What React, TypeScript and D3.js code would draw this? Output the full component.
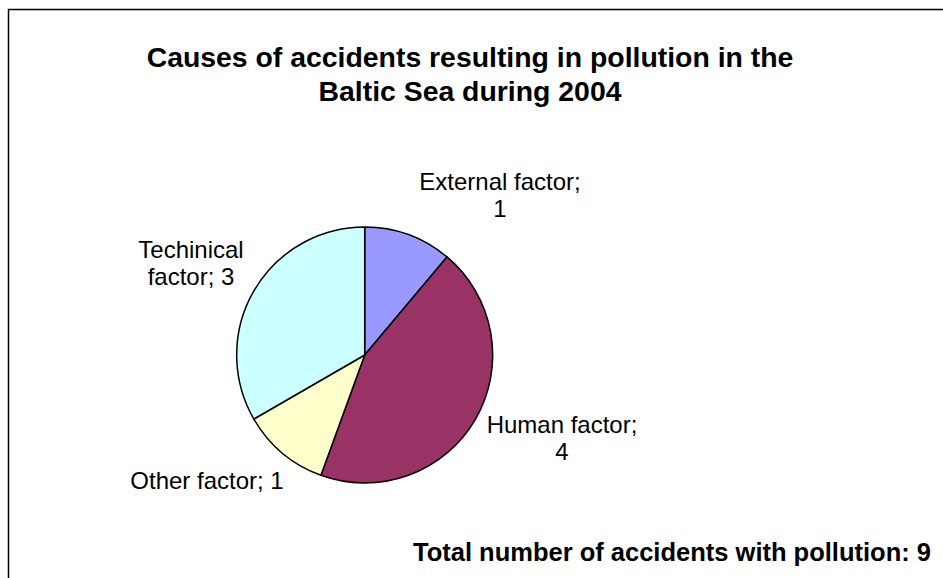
import React from "react";
import * as d3 from "d3";

const categories = ["External factor", "Human factor", "Other factor", "Techinical factor"];
const values = [1, 4, 1, 3];
const colors = ["#9999FF", "#993366", "#FFFFCC", "#CCFFFF"];
const titleLines = ["Causes of accidents resulting in pollution in the", "Baltic Sea during 2004"];
const totalLabel = "Total number of accidents with pollution: ";

// label lines per slice, with anchor positions
const labelLayout = [
  { lines: (c: string, v: number) => [c + ";", String(v)], x: 500, y: 190 },
  { lines: (c: string, v: number) => [c + ";", String(v)], x: 562, y: 433 },
  { lines: (c: string, v: number) => [c + "; " + v], x: 207, y: 489 },
  { lines: (c: string, v: number) => ["Techinical", "factor; " + v], x: 191, y: 258 },
];

export default function App() {
  const W = 943;
  const H = 578;
  const cx = 364.7;
  const cy = 355;
  const r = 128;
  const total = d3.sum(values);

  const pie = d3.pie<number>().sort(null).value((d) => d).startAngle(0).endAngle(2 * Math.PI);
  const arcs = pie(values);
  const arcGen = d3.arc<d3.PieArcDatum<number>>().innerRadius(0).outerRadius(r);

  const font = "'Liberation Sans', Arial, sans-serif";

  return (
    <svg
      width={W}
      height={H}
      style={{ position: "absolute", left: 0, top: 0, background: "#fff" }}
      fontFamily={font}
    >
      <rect x={8.5} y={9.5} width={1000} height={1000} fill="#fff" stroke="#000" strokeWidth={1.5} />
      {titleLines.map((t, i) => (
        <text key={i} x={470} y={67 + i * 34} textAnchor="middle" fontSize={28.4} fontWeight="bold" fill="#000">
          {t}
        </text>
      ))}
      <g transform={`translate(${cx},${cy})`}>
        {arcs.map((a, i) => (
          <path key={i} d={arcGen(a) || ""} fill={colors[i]} stroke="#000" strokeWidth={1.5} strokeLinejoin="round" />
        ))}
      </g>
      {labelLayout.map((l, i) =>
        l.lines(categories[i], values[i]).map((line, j) => (
          <text key={`${i}-${j}`} x={l.x} y={l.y + j * 27} textAnchor="middle" fontSize={24} fill="#000">
            {line}
          </text>
        ))
      )}
      <text x={931} y={561} textAnchor="end" fontSize={25.5} fontWeight="bold" fill="#000">
        {totalLabel + total}
      </text>
    </svg>
  );
}
